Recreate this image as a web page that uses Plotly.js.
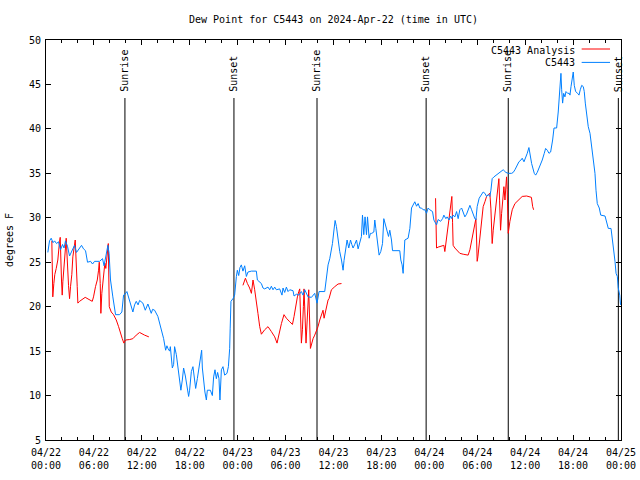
<!DOCTYPE html>
<html>
<head>
<meta charset="utf-8">
<script src="https://cdn.plot.ly/plotly-3.0.1.min.js"></script>
<style>html,body{margin:0;padding:0;background:#fff;}#chart{width:640px;height:480px;}</style>
</head>
<body>
<div id="chart"></div>
<script>
// Hours after 2024-04-22 00:00 UTC, dew point (deg F)
const startTime = '2024-04-22T00:00:00Z';
const endTime = '2024-04-25T00:00:00Z';

const blueHours = [
0.23,0.44,0.65,0.88,1.07,1.32,1.57,1.82,2.07,2.26,
2.44,2.69,2.95,3.26,3.57,3.82,4.14,4.45,4.70,4.95,
5.20,5.58,5.83,6.08,6.71,7.08,7.27,7.46,7.62,7.75,
7.90,8.08,8.37,8.71,9.21,9.50,9.71,9.90,10.13,10.47,
10.65,10.88,11.09,11.30,11.53,11.72,12.13,12.43,12.76,12.97,
13.18,13.35,13.60,14.01,14.44,14.73,14.98,15.14,15.27,15.48,
15.57,15.82,15.98,16.10,16.32,16.52,16.73,16.89,17.07,17.23,
17.45,17.65,17.86,17.98,18.20,18.40,18.61,18.74,18.95,19.15,
19.33,19.49,19.58,19.74,19.90,20.08,20.20,20.58,20.83,20.99,
21.16,21.33,21.49,21.66,21.78,21.96,22.16,22.37,22.66,22.84,
23.00,23.06,23.16,23.41,23.62,23.84,23.96,24.13,24.29,24.46,
24.66,24.88,25.09,25.29,25.72,26.34,26.47,26.97,27.17,27.38,
27.80,28.01,28.22,28.42,28.64,28.85,29.26,29.55,29.68,29.89,
30.10,30.31,30.52,30.93,31.06,31.36,31.65,31.98,32.18,32.40,
32.61,32.81,33.24,33.65,33.94,34.19,34.90,35.12,35.32,35.53,
35.74,35.87,36.03,36.20,36.37,36.57,36.78,37.00,37.20,37.32,
37.54,37.70,37.91,38.13,38.29,38.45,38.66,38.88,39.08,39.29,
39.50,39.63,39.79,39.95,40.13,40.26,40.46,40.63,40.79,41.05,
41.17,41.30,41.51,41.71,41.92,42.14,42.30,42.55,42.71,42.89,
43.05,43.26,43.39,44.30,44.43,44.59,44.72,44.81,44.93,45.34,
45.56,45.77,45.97,46.18,46.40,46.60,46.81,47.02,47.22,47.44,
47.65,47.85,48.06,48.40,48.57,48.82,48.90,49.10,49.41,49.66,
49.82,50.07,50.23,50.48,50.66,50.82,50.98,51.20,51.41,51.61,
51.82,52.04,52.24,52.45,52.66,52.86,53.08,53.29,53.49,53.70,
53.83,53.99,54.24,54.54,54.74,54.96,55.17,55.37,55.58,55.71,
55.87,56.09,56.42,56.75,57.05,57.25,57.59,57.88,58.30,58.50,
58.72,58.93,59.22,59.47,59.63,59.85,60.06,60.26,60.47,60.60,
60.81,61.14,61.31,61.51,61.85,62.14,62.39,62.56,62.77,62.98,
63.19,63.32,63.44,63.61,63.94,64.14,64.27,64.36,64.48,64.57,
64.69,64.82,64.98,65.11,65.32,65.52,65.61,65.74,65.90,66.02,
66.15,66.32,66.57,66.74,66.90,67.08,67.28,67.40,67.53,67.70,
67.90,68.12,68.33,68.53,68.74,68.87,69.03,69.28,69.46,70.00,
70.21,70.41,70.75,70.91,71.09,71.25,71.38,71.54,71.66,71.84,
71.94];

const blueDewF = [
26.1,27.4,27.7,27.2,27.4,27.1,27.3,26.4,27.0,26.6,
27.4,26.8,25.7,26.3,26.9,26.1,26.5,26.9,26.5,26.3,
25.0,25.1,24.8,25.1,25.1,25.4,24.6,25.5,26.4,26.9,
26.0,23.0,21.1,19.1,19.1,19.4,21.3,21.4,21.7,20.75,
20.2,19.4,20.2,20.6,20.2,20.7,20.4,19.6,20.3,19.8,
19.25,19.7,19.6,18.9,17.4,16.4,15.1,15.6,15.3,15.0,
15.5,13.1,13.5,15.5,14.6,13.25,12.1,10.6,11.75,13.1,
12.2,11.0,9.9,10.6,12.7,13.25,11.9,10.8,11.9,13.1,
14.0,15.1,13.1,11.4,10.4,9.5,10.6,10.6,10.0,12.1,
12.9,11.9,12.6,11.9,9.5,12.9,13.25,12.3,12.5,13.25,
15.3,17.5,20.6,20.9,21.3,23.4,24.1,23.5,24.4,24.7,
24.0,24.6,23.4,23.9,24.0,24.0,23.0,22.6,22.1,22.0,
22.2,21.9,22.3,21.9,22.2,21.9,22.0,21.3,22.1,21.6,
22.2,21.7,21.9,21.8,21.2,21.4,21.3,21.7,21.3,21.9,
21.5,21.1,21.05,21.5,20.4,21.7,21.7,23.4,24.7,25.4,
26.4,27.1,28.4,29.7,29.0,27.5,26.2,25.25,24.1,25.2,
26.9,27.5,26.6,27.5,27.0,26.6,27.0,27.5,26.5,27.1,
27.9,30.3,28.1,30.1,28.1,30.1,27.7,28.25,28.25,28.4,
29.75,28.8,27.1,25.8,26.2,27.1,29.9,29.0,28.4,27.9,
28.6,27.5,26.3,26.3,25.25,24.7,23.75,25.6,27.5,27.7,
28.8,31.1,31.4,31.8,31.3,31.6,31.1,31.1,30.9,30.9,
30.5,31.1,30.9,30.7,29.75,29.4,29.2,29.8,29.6,29.9,
30.3,29.9,30.1,29.75,30.2,29.9,30.3,30.1,30.7,29.9,
30.9,31.1,30.7,30.1,30.4,30.9,31.4,30.9,30.3,29.9,
29.75,31.25,32.2,32.6,32.9,32.75,32.4,32.6,32.4,33.1,
34.4,34.6,34.8,35.0,35.2,35.4,35.1,35.0,35.0,35.1,
35.4,35.8,36.3,36.5,36.7,36.3,36.7,37.25,37.9,37.25,
36.1,35.0,34.8,35.1,35.75,36.5,37.25,37.8,37.6,37.25,
37.4,38.0,38.75,40.1,40.1,41.9,43.25,45.1,46.25,44.4,
42.9,44.0,43.6,44.2,44.0,44.0,43.8,44.75,45.7,46.4,
44.9,44.2,44.0,43.8,44.4,44.9,44.75,44.2,42.9,41.75,
40.25,39.5,38.0,36.9,35.0,33.1,31.6,31.1,30.3,30.2,
29.4,28.8,28.8,27.7,26.0,25.1,23.75,23.4,22.1,21.3,
20.2];

const redHours = [
0.73,0.85,0.98,1.10,1.28,1.48,1.69,1.78,1.94,2.03,2.11,2.28,2.44,2.53,2.82,2.95,3.07,3.23,3.36,3.53,
3.66,3.91,3.99,4.20,4.91,5.79,5.95,6.20,6.42,6.58,6.67,6.79,6.87,6.99,7.24,7.37,7.49,7.62,7.71,7.80,
7.92,8.17,8.46,8.80,9.09,9.30,9.55,9.75,9.96,10.47,10.88,11.30,11.72,12.34,12.88,
18.00,
24.66,24.97,25.22,25.50,25.72,25.92,26.13,26.34,26.54,26.76,26.97,27.38,27.80,28.22,28.64,28.93,29.18,29.48,29.80,30.10,
30.52,30.86,31.06,31.23,31.48,31.65,31.77,31.98,32.11,32.23,32.31,32.56,32.69,32.81,32.90,33.11,33.24,33.44,33.65,33.86,
34.06,34.28,34.49,34.69,34.82,35.12,35.32,35.44,35.74,36.16,36.57,37.00,
42.00,
48.78,48.82,48.90,49.10,49.53,49.82,49.94,50.07,50.23,50.36,50.51,50.66,50.73,50.82,50.91,50.98,51.20,51.61,51.82,52.24,
52.86,53.08,53.29,53.49,53.70,53.83,53.92,53.99,54.08,54.17,54.33,54.54,54.74,54.96,55.17,55.37,55.58,55.71,55.87,56.00,
56.21,56.42,56.62,56.71,56.80,56.92,57.05,57.18,57.34,57.47,57.59,57.67,57.75,57.80,57.88,58.09,58.38,58.72,59.13,59.63,
60.18,60.60,60.78,60.94,61.06];

const redDewF = [
27.4,21.1,22.6,23.6,24.3,25.25,27.3,27.8,23.0,21.3,22.8,24.5,26.75,27.7,22.4,20.9,22.25,23.6,25.6,26.9,
27.5,22.25,20.4,20.6,21.05,20.6,21.1,22.25,23.0,24.1,25.0,22.6,19.25,21.5,24.1,24.9,24.3,25.6,26.75,27.1,
20.0,19.4,19.1,18.5,17.75,17.0,16.4,15.9,16.25,16.3,16.4,16.8,17.1,16.8,16.6,
null,
22.4,23.2,22.6,22.1,21.5,23.0,21.9,20.75,19.25,17.75,16.9,17.4,17.75,17.2,16.6,15.9,17.0,18.1,19.1,18.7,
18.3,18.0,18.9,20.0,21.1,21.7,22.0,15.9,17.4,20.0,22.0,15.9,18.5,21.1,21.9,15.3,15.9,16.4,16.8,17.2,
17.75,18.5,19.1,19.6,18.7,20.2,20.75,20.9,21.9,22.25,22.55,22.6,
null,
32.2,29.0,26.6,26.7,26.8,26.9,26.2,27.1,28.25,29.4,30.0,30.9,31.8,32.4,29.5,26.9,26.6,26.2,26.0,25.9,
25.8,26.4,27.5,28.6,29.6,29.9,27.5,25.1,25.6,26.4,27.9,30.1,31.25,31.8,32.4,32.6,32.75,31.0,27.1,28.6,
30.5,32.0,33.9,34.4,31.9,28.6,30.5,32.0,33.5,32.0,34.25,34.6,33.2,31.6,28.25,29.6,30.9,31.6,32.0,32.4,
32.45,32.4,32.3,31.25,30.9];

const sunTimes = ['2024-04-22 09:53','2024-04-22 23:32','2024-04-23 09:56','2024-04-23 23:36','2024-04-24 09:53','2024-04-24 23:40'];
const sunLabels = ['Sunrise','Sunset','Sunrise','Sunset','Sunrise','Sunset'];

const seriesNames = ['C5443 Analysis','C5443'];
const seriesColors = ['#ff0000','#0080ff'];

const t0 = Date.parse(startTime);
const toTime = h => new Date(t0 + h * 3600000).toISOString();

const FONT = 'DejaVu Sans Mono, Liberation Mono, monospace';

const traces = [
  {x: redHours.map(toTime), y: redDewF, type:'scatter', mode:'lines', name: seriesNames[0],
   line:{color: seriesColors[0], width:1}, connectgaps:false},
  {x: blueHours.map(toTime), y: blueDewF, type:'scatter', mode:'lines', name: seriesNames[1],
   line:{color: seriesColors[1], width:1}}
];

const shapes = sunTimes.map(t => ({type:'line', xref:'x', yref:'paper', x0:t, x1:t, y0:0, y1:0.855,
  line:{color:'#000', width:1}, layer:'below'}));
// legend samples (gnuplot style: text, then line)
shapes.push({type:'line', xref:'paper', yref:'paper', x0:0.9316, x1:0.9809, y0:0.9775, y1:0.9775, line:{color:seriesColors[0], width:1}});
shapes.push({type:'line', xref:'paper', yref:'paper', x0:0.9316, x1:0.9809, y0:0.944, y1:0.944, line:{color:seriesColors[1], width:1}});

const annotations = sunTimes.map((t,i) => ({x:t, xref:'x', y:0.868, yref:'paper', text:sunLabels[i],
  textangle:-90, showarrow:false, xanchor:'center', yanchor:'bottom', font:{family:FONT, size:10, color:'#000'}, borderpad:0}));
annotations.push({x:0.9215, xref:'paper', y:0.9735, yref:'paper', text:seriesNames[0], showarrow:false,
  xanchor:'right', yanchor:'middle', font:{family:FONT, size:10, color:'#000'}, borderpad:0});
annotations.push({x:0.9215, xref:'paper', y:0.9435, yref:'paper', text:seriesNames[1], showarrow:false,
  xanchor:'right', yanchor:'middle', font:{family:FONT, size:10, color:'#000'}, borderpad:0});

const layout = {
  width:640, height:480,
  margin:{l:46, r:19, t:40, b:40, pad:0},
  paper_bgcolor:'#fff', plot_bgcolor:'#fff',
  showlegend:false,
  font:{family:FONT, size:10, color:'#000'},
  title:{text:'Dew Point for C5443 on 2024-Apr-22 (time in UTC)', x:0.5, xref:'paper', xanchor:'center',
         y:1-19/480, yref:'container', yanchor:'middle', font:{family:FONT, size:10, color:'#000'}},
  xaxis:{type:'date', range:['2024-04-22 00:00','2024-04-25 00:00'], tickmode:'linear', tick0:'2024-04-22 00:00',
         dtick:21600000, tickformat:'%m/%d<br>%H:%M', ticks:'inside', ticklen:5, tickcolor:'#000', tickwidth:1,
         showline:true, linecolor:'#000', linewidth:1, mirror:'allticks', showgrid:false, zeroline:false,
         minor:{tick0:'2024-04-22 00:00', dtick:7200000, ticks:'inside', ticklen:3, tickcolor:'#000', showgrid:false},
         tickfont:{family:FONT, size:10, color:'#000'}, ticklabelstandoff:3, automargin:false, fixedrange:true},
  yaxis:{range:[5,50], tickmode:'linear', tick0:5, dtick:5, ticks:'inside', ticklen:5, tickcolor:'#000', tickwidth:1,
         showline:true, linecolor:'#000', linewidth:1, mirror:'allticks', showgrid:false, zeroline:false,
         tickfont:{family:FONT, size:10, color:'#000'}, ticklabelstandoff:2, automargin:false, fixedrange:true,
         title:{text:'degrees F', font:{family:FONT, size:10, color:'#000'}, standoff:13}},
  shapes: shapes,
  annotations: annotations
};

Plotly.newPlot('chart', traces, layout, {staticPlot:true, displayModeBar:false});
</script>
</body>
</html>
